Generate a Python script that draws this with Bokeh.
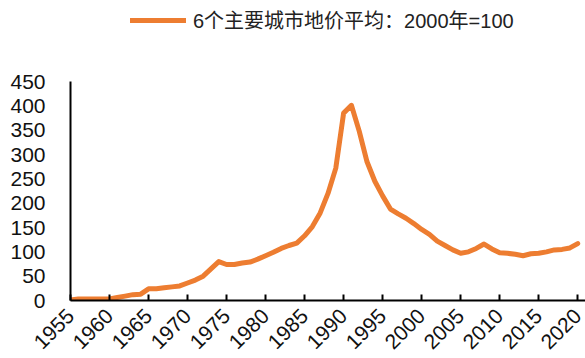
from bokeh.plotting import figure
from bokeh.models import Range1d, FixedTicker, Legend, LegendItem
from bokeh.embed import file_html
from bokeh.resources import INLINE
import math

years = list(range(1955, 2021))
land_price = [
    1, 3, 3, 3, 3, 3,            # 1955-1960
    6, 9, 12, 13, 24,            # 1961-1965
    24, 26, 28, 30, 36,          # 1966-1970
    42, 50, 65, 80, 74,          # 1971-1975
    74, 77, 79, 85, 92,          # 1976-1980
    99, 107, 113, 118, 133,      # 1981-1985
    152, 180, 220, 272, 385,     # 1986-1990
    401, 348, 285, 245, 215,     # 1991-1995
    188, 178, 169, 158, 146,     # 1996-2000
    136, 122, 113, 104, 97,      # 2001-2005
    100, 107, 116, 106, 98,      # 2006-2010
    97, 95, 92, 96, 97,          # 2011-2015
    100, 104, 105, 108, 117,     # 2016-2020
]
x_ticks = list(range(1955, 2021, 5))
y_ticks = list(range(0, 451, 50))
series_name = "6个主要城市地价平均：2000年=100"

FONT = "'Liberation Sans', 'Noto Sans CJK SC', Arial, sans-serif"
ORANGE = "#ED7D31"

# frame spans from the top of the page to the x axis; the y axis stops at 450
Y_TOP = 450 * 300 / 219

p = figure(width=585, height=358, output_backend="svg", toolbar_location=None,
           x_range=Range1d(1955, 2021), y_range=Range1d(0, Y_TOP),
           min_border_left=70, min_border_right=0, min_border_top=0,
           min_border_bottom=58)
p.outline_line_color = None
p.xgrid.grid_line_color = None
p.ygrid.grid_line_color = None

r = p.line(years, land_price, line_color=ORANGE, line_width=5, line_join="round",
           line_cap="round")

p.xaxis.ticker = FixedTicker(ticks=x_ticks)
p.yaxis.ticker = FixedTicker(ticks=y_ticks)
p.yaxis.bounds = (0, 450)
for ax in (p.xaxis[0], p.yaxis[0]):
    ax.axis_line_color = "black"
    ax.axis_line_width = 2
    ax.major_label_text_font = FONT
    ax.major_label_text_font_size = "21px"
    ax.major_label_text_color = "#111111"
    ax.minor_tick_line_color = None
p.xaxis.major_tick_in = 6
p.xaxis.major_tick_out = 0
p.xaxis.major_tick_line_width = 2
p.xaxis.major_tick_line_color = "black"
p.xaxis.major_label_orientation = math.pi / 4
p.xaxis.major_label_standoff = 12
p.yaxis.major_tick_in = 0
p.yaxis.major_tick_out = 0
p.yaxis.major_label_standoff = 25

legend = Legend(items=[LegendItem(label=series_name, renderers=[r])],
                location=(60, 266), orientation="horizontal",
                border_line_color=None, background_fill_alpha=0,
                glyph_width=56, glyph_height=22, label_standoff=7,
                label_text_font=FONT, label_text_font_size="20px",
                label_text_color="#222222", padding=0, margin=0)
p.add_layout(legend)

open("out.html", "w").write(file_html(p, INLINE))
